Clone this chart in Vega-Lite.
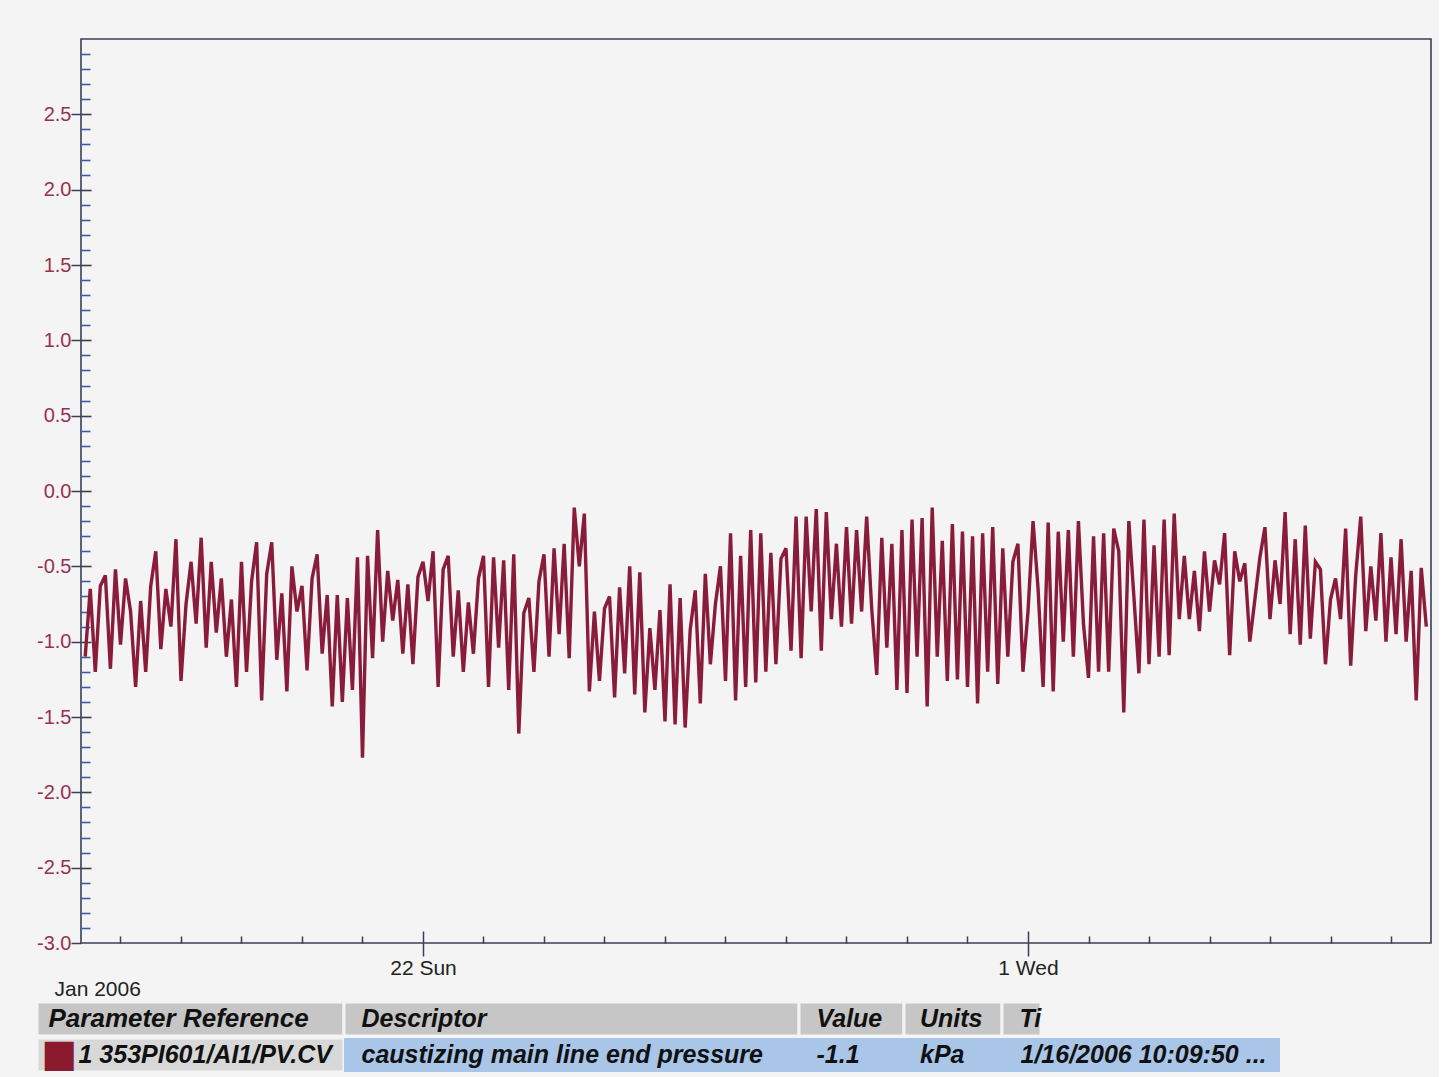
{
  "$schema": "https://vega.github.io/schema/vega-lite/v6.json",
  "background": "#f4f4f4",
  "padding": {"left": 35, "top": 38, "right": 5, "bottom": 3},
  "config": {"view": {"stroke": null}, "font": "Liberation Sans"},
  "columns": 1,
  "align": "none",
  "spacing": 0,
  "datasets": {
    "trend": [
      {"t":"2006-01-16T10:00","v":-1.1},{"t":"2006-01-16T12:00","v":-0.65},{"t":"2006-01-16T14:00","v":-1.2},{"t":"2006-01-16T16:00","v":-0.63},{"t":"2006-01-16T18:00","v":-0.56},{"t":"2006-01-16T20:00","v":-1.18},{"t":"2006-01-16T22:00","v":-0.52},
      {"t":"2006-01-17T00:00","v":-1.02},{"t":"2006-01-17T02:00","v":-0.58},{"t":"2006-01-17T04:00","v":-0.8},{"t":"2006-01-17T06:00","v":-1.3},{"t":"2006-01-17T08:00","v":-0.73},{"t":"2006-01-17T10:00","v":-1.2},{"t":"2006-01-17T12:00","v":-0.63},{"t":"2006-01-17T14:00","v":-0.4},{"t":"2006-01-17T16:00","v":-1.05},{"t":"2006-01-17T18:00","v":-0.65},{"t":"2006-01-17T20:00","v":-0.9},{"t":"2006-01-17T22:00","v":-0.32},
      {"t":"2006-01-18T00:00","v":-1.26},{"t":"2006-01-18T02:00","v":-0.75},{"t":"2006-01-18T04:00","v":-0.47},{"t":"2006-01-18T06:00","v":-0.88},{"t":"2006-01-18T08:00","v":-0.31},{"t":"2006-01-18T10:00","v":-1.04},{"t":"2006-01-18T12:00","v":-0.47},{"t":"2006-01-18T14:00","v":-0.94},{"t":"2006-01-18T16:00","v":-0.58},{"t":"2006-01-18T18:00","v":-1.1},{"t":"2006-01-18T20:00","v":-0.72},{"t":"2006-01-18T22:00","v":-1.3},
      {"t":"2006-01-19T00:00","v":-0.47},{"t":"2006-01-19T02:00","v":-1.2},{"t":"2006-01-19T04:00","v":-0.6},{"t":"2006-01-19T06:00","v":-0.34},{"t":"2006-01-19T08:00","v":-1.39},{"t":"2006-01-19T10:00","v":-0.55},{"t":"2006-01-19T12:00","v":-0.34},{"t":"2006-01-19T14:00","v":-1.12},{"t":"2006-01-19T16:00","v":-0.68},{"t":"2006-01-19T18:00","v":-1.33},{"t":"2006-01-19T20:00","v":-0.5},{"t":"2006-01-19T22:00","v":-0.8},
      {"t":"2006-01-20T00:00","v":-0.63},{"t":"2006-01-20T02:00","v":-1.19},{"t":"2006-01-20T04:00","v":-0.58},{"t":"2006-01-20T06:00","v":-0.42},{"t":"2006-01-20T08:00","v":-1.08},{"t":"2006-01-20T10:00","v":-0.69},{"t":"2006-01-20T12:00","v":-1.43},{"t":"2006-01-20T14:00","v":-0.69},{"t":"2006-01-20T16:00","v":-1.4},{"t":"2006-01-20T18:00","v":-0.71},{"t":"2006-01-20T20:00","v":-1.32},{"t":"2006-01-20T22:00","v":-0.44},
      {"t":"2006-01-21T00:00","v":-1.77},{"t":"2006-01-21T02:00","v":-0.43},{"t":"2006-01-21T04:00","v":-1.11},{"t":"2006-01-21T06:00","v":-0.26},{"t":"2006-01-21T08:00","v":-1.0},{"t":"2006-01-21T10:00","v":-0.53},{"t":"2006-01-21T12:00","v":-0.86},{"t":"2006-01-21T14:00","v":-0.59},{"t":"2006-01-21T16:00","v":-1.08},{"t":"2006-01-21T18:00","v":-0.62},{"t":"2006-01-21T20:00","v":-1.15},{"t":"2006-01-21T22:00","v":-0.57},
      {"t":"2006-01-22T00:00","v":-0.47},{"t":"2006-01-22T02:00","v":-0.73},{"t":"2006-01-22T04:00","v":-0.4},{"t":"2006-01-22T06:00","v":-1.3},{"t":"2006-01-22T08:00","v":-0.52},{"t":"2006-01-22T10:00","v":-0.43},{"t":"2006-01-22T12:00","v":-1.1},{"t":"2006-01-22T14:00","v":-0.66},{"t":"2006-01-22T16:00","v":-1.2},{"t":"2006-01-22T18:00","v":-0.74},{"t":"2006-01-22T20:00","v":-1.08},{"t":"2006-01-22T22:00","v":-0.58},
      {"t":"2006-01-23T00:00","v":-0.43},{"t":"2006-01-23T02:00","v":-1.3},{"t":"2006-01-23T04:00","v":-0.44},{"t":"2006-01-23T06:00","v":-1.04},{"t":"2006-01-23T08:00","v":-0.46},{"t":"2006-01-23T10:00","v":-1.32},{"t":"2006-01-23T12:00","v":-0.42},{"t":"2006-01-23T14:00","v":-1.61},{"t":"2006-01-23T16:00","v":-0.81},{"t":"2006-01-23T18:00","v":-0.71},{"t":"2006-01-23T20:00","v":-1.2},{"t":"2006-01-23T22:00","v":-0.6},
      {"t":"2006-01-24T00:00","v":-0.42},{"t":"2006-01-24T02:00","v":-1.1},{"t":"2006-01-24T04:00","v":-0.38},{"t":"2006-01-24T06:00","v":-0.95},{"t":"2006-01-24T08:00","v":-0.35},{"t":"2006-01-24T10:00","v":-1.11},{"t":"2006-01-24T12:00","v":-0.11},{"t":"2006-01-24T14:00","v":-0.5},{"t":"2006-01-24T16:00","v":-0.15},{"t":"2006-01-24T18:00","v":-1.33},{"t":"2006-01-24T20:00","v":-0.8},{"t":"2006-01-24T22:00","v":-1.26},
      {"t":"2006-01-25T00:00","v":-0.78},{"t":"2006-01-25T02:00","v":-0.7},{"t":"2006-01-25T04:00","v":-1.37},{"t":"2006-01-25T06:00","v":-0.64},{"t":"2006-01-25T08:00","v":-1.21},{"t":"2006-01-25T10:00","v":-0.5},{"t":"2006-01-25T12:00","v":-1.35},{"t":"2006-01-25T14:00","v":-0.54},{"t":"2006-01-25T16:00","v":-1.47},{"t":"2006-01-25T18:00","v":-0.91},{"t":"2006-01-25T20:00","v":-1.32},{"t":"2006-01-25T22:00","v":-0.79},
      {"t":"2006-01-26T00:00","v":-1.53},{"t":"2006-01-26T02:00","v":-0.62},{"t":"2006-01-26T04:00","v":-1.55},{"t":"2006-01-26T06:00","v":-0.71},{"t":"2006-01-26T08:00","v":-1.57},{"t":"2006-01-26T10:00","v":-0.92},{"t":"2006-01-26T12:00","v":-0.66},{"t":"2006-01-26T14:00","v":-1.41},{"t":"2006-01-26T16:00","v":-0.55},{"t":"2006-01-26T18:00","v":-1.15},{"t":"2006-01-26T20:00","v":-0.75},{"t":"2006-01-26T22:00","v":-0.5},
      {"t":"2006-01-27T00:00","v":-1.26},{"t":"2006-01-27T02:00","v":-0.28},{"t":"2006-01-27T04:00","v":-1.39},{"t":"2006-01-27T06:00","v":-0.43},{"t":"2006-01-27T08:00","v":-1.3},{"t":"2006-01-27T10:00","v":-0.26},{"t":"2006-01-27T12:00","v":-1.27},{"t":"2006-01-27T14:00","v":-0.28},{"t":"2006-01-27T16:00","v":-1.2},{"t":"2006-01-27T18:00","v":-0.41},{"t":"2006-01-27T20:00","v":-1.15},{"t":"2006-01-27T22:00","v":-0.45},
      {"t":"2006-01-28T00:00","v":-0.38},{"t":"2006-01-28T02:00","v":-1.06},{"t":"2006-01-28T04:00","v":-0.17},{"t":"2006-01-28T06:00","v":-1.11},{"t":"2006-01-28T08:00","v":-0.17},{"t":"2006-01-28T10:00","v":-0.8},{"t":"2006-01-28T12:00","v":-0.12},{"t":"2006-01-28T14:00","v":-1.06},{"t":"2006-01-28T16:00","v":-0.14},{"t":"2006-01-28T18:00","v":-0.85},{"t":"2006-01-28T20:00","v":-0.35},{"t":"2006-01-28T22:00","v":-0.9},
      {"t":"2006-01-29T00:00","v":-0.24},{"t":"2006-01-29T02:00","v":-0.88},{"t":"2006-01-29T04:00","v":-0.26},{"t":"2006-01-29T06:00","v":-0.8},{"t":"2006-01-29T08:00","v":-0.17},{"t":"2006-01-29T10:00","v":-0.78},{"t":"2006-01-29T12:00","v":-1.22},{"t":"2006-01-29T14:00","v":-0.31},{"t":"2006-01-29T16:00","v":-1.04},{"t":"2006-01-29T18:00","v":-0.35},{"t":"2006-01-29T20:00","v":-1.32},{"t":"2006-01-29T22:00","v":-0.26},
      {"t":"2006-01-30T00:00","v":-1.34},{"t":"2006-01-30T02:00","v":-0.19},{"t":"2006-01-30T04:00","v":-1.1},{"t":"2006-01-30T06:00","v":-0.18},{"t":"2006-01-30T08:00","v":-1.43},{"t":"2006-01-30T10:00","v":-0.11},{"t":"2006-01-30T12:00","v":-1.1},{"t":"2006-01-30T14:00","v":-0.33},{"t":"2006-01-30T16:00","v":-1.26},{"t":"2006-01-30T18:00","v":-0.22},{"t":"2006-01-30T20:00","v":-1.25},{"t":"2006-01-30T22:00","v":-0.27},
      {"t":"2006-01-31T00:00","v":-1.3},{"t":"2006-01-31T02:00","v":-0.3},{"t":"2006-01-31T04:00","v":-1.41},{"t":"2006-01-31T06:00","v":-0.28},{"t":"2006-01-31T08:00","v":-1.2},{"t":"2006-01-31T10:00","v":-0.24},{"t":"2006-01-31T12:00","v":-1.28},{"t":"2006-01-31T14:00","v":-0.38},{"t":"2006-01-31T16:00","v":-1.1},{"t":"2006-01-31T18:00","v":-0.47},{"t":"2006-01-31T20:00","v":-0.35},{"t":"2006-01-31T22:00","v":-1.2},
      {"t":"2006-02-01T00:00","v":-0.8},{"t":"2006-02-01T02:00","v":-0.2},{"t":"2006-02-01T04:00","v":-0.65},{"t":"2006-02-01T06:00","v":-1.3},{"t":"2006-02-01T08:00","v":-0.21},{"t":"2006-02-01T10:00","v":-1.33},{"t":"2006-02-01T12:00","v":-0.27},{"t":"2006-02-01T14:00","v":-1.0},{"t":"2006-02-01T16:00","v":-0.26},{"t":"2006-02-01T18:00","v":-1.1},{"t":"2006-02-01T20:00","v":-0.2},{"t":"2006-02-01T22:00","v":-0.88},
      {"t":"2006-02-02T00:00","v":-1.24},{"t":"2006-02-02T02:00","v":-0.3},{"t":"2006-02-02T04:00","v":-1.2},{"t":"2006-02-02T06:00","v":-0.28},{"t":"2006-02-02T08:00","v":-1.2},{"t":"2006-02-02T10:00","v":-0.25},{"t":"2006-02-02T12:00","v":-0.4},{"t":"2006-02-02T14:00","v":-1.47},{"t":"2006-02-02T16:00","v":-0.2},{"t":"2006-02-02T18:00","v":-0.7},{"t":"2006-02-02T20:00","v":-1.21},{"t":"2006-02-02T22:00","v":-0.19},
      {"t":"2006-02-03T00:00","v":-1.15},{"t":"2006-02-03T02:00","v":-0.36},{"t":"2006-02-03T04:00","v":-1.1},{"t":"2006-02-03T06:00","v":-0.19},{"t":"2006-02-03T08:00","v":-1.09},{"t":"2006-02-03T10:00","v":-0.15},{"t":"2006-02-03T12:00","v":-0.85},{"t":"2006-02-03T14:00","v":-0.43},{"t":"2006-02-03T16:00","v":-0.85},{"t":"2006-02-03T18:00","v":-0.53},{"t":"2006-02-03T20:00","v":-0.93},{"t":"2006-02-03T22:00","v":-0.4},
      {"t":"2006-02-04T00:00","v":-0.8},{"t":"2006-02-04T02:00","v":-0.46},{"t":"2006-02-04T04:00","v":-0.62},{"t":"2006-02-04T06:00","v":-0.28},{"t":"2006-02-04T08:00","v":-1.09},{"t":"2006-02-04T10:00","v":-0.4},{"t":"2006-02-04T12:00","v":-0.6},{"t":"2006-02-04T14:00","v":-0.48},{"t":"2006-02-04T16:00","v":-1.0},{"t":"2006-02-04T18:00","v":-0.72},{"t":"2006-02-04T20:00","v":-0.44},{"t":"2006-02-04T22:00","v":-0.24},
      {"t":"2006-02-05T00:00","v":-0.85},{"t":"2006-02-05T02:00","v":-0.46},{"t":"2006-02-05T04:00","v":-0.75},{"t":"2006-02-05T06:00","v":-0.14},{"t":"2006-02-05T08:00","v":-0.95},{"t":"2006-02-05T10:00","v":-0.32},{"t":"2006-02-05T12:00","v":-1.02},{"t":"2006-02-05T14:00","v":-0.23},{"t":"2006-02-05T16:00","v":-0.98},{"t":"2006-02-05T18:00","v":-0.47},{"t":"2006-02-05T20:00","v":-0.52},{"t":"2006-02-05T22:00","v":-1.15},
      {"t":"2006-02-06T00:00","v":-0.72},{"t":"2006-02-06T02:00","v":-0.58},{"t":"2006-02-06T04:00","v":-0.85},{"t":"2006-02-06T06:00","v":-0.25},{"t":"2006-02-06T08:00","v":-1.16},{"t":"2006-02-06T10:00","v":-0.56},{"t":"2006-02-06T12:00","v":-0.17},{"t":"2006-02-06T14:00","v":-0.93},{"t":"2006-02-06T16:00","v":-0.5},{"t":"2006-02-06T18:00","v":-0.86},{"t":"2006-02-06T20:00","v":-0.28},{"t":"2006-02-06T22:00","v":-1.0},
      {"t":"2006-02-07T00:00","v":-0.44},{"t":"2006-02-07T02:00","v":-0.95},{"t":"2006-02-07T04:00","v":-0.32},{"t":"2006-02-07T06:00","v":-1.0},{"t":"2006-02-07T08:00","v":-0.53},{"t":"2006-02-07T10:00","v":-1.39},{"t":"2006-02-07T12:00","v":-0.51},{"t":"2006-02-07T14:00","v":-0.9}
    ],
    "table": [
      {"col":"param","row":"header","label":"Parameter Reference"},
      {"col":"param","row":"value","label":"1 353PI601/AI1/PV.CV"},
      {"col":"desc","row":"header","label":"Descriptor"},
      {"col":"desc","row":"value","label":"caustizing main line end pressure"},
      {"col":"value","row":"header","label":"Value"},
      {"col":"value","row":"value","label":"-1.1"},
      {"col":"units","row":"header","label":"Units"},
      {"col":"units","row":"value","label":"kPa"},
      {"col":"time","row":"header","label":"Ti"},
      {"col":"time","row":"value","label":"1/16/2006 10:09:50 ..."}
    ]
  },
  "concat": [
    {
      "width": 1350,
      "height": 904,
      "view": {"stroke": "#3a3f55", "strokeWidth": 1.6},
      "data": {"name": "trend"},
      "layer": [
        {
          "mark": {"type": "line", "color": "#8a1c3b", "strokeWidth": 3.4},
          "encoding": {
            "x": {
              "field": "t", "type": "temporal",
              "scale": {"domain": [{"year": 2006, "month": 1, "date": 16, "hours": 8, "minutes": 20}, {"year": 2006, "month": 2, "date": 7, "hours": 15, "minutes": 52}]},
              "axis": {
                "orient": "bottom",
                "values": [{"year": 2006, "month": 1, "date": 22}, {"year": 2006, "month": 2, "date": 1}],
                "format": "%-d %a",
                "tickSize": 13, "tickColor": "#3a3f55", "tickWidth": 1.5,
                "labelColor": "#222222", "labelFontSize": 21, "labelPadding": 1, "labelFont": "Liberation Sans",
                "domain": false, "grid": false,
                "title": "Jan 2006", "titleFontSize": 21, "titleFontWeight": "normal", "titleColor": "#222222", "titleFont": "Liberation Sans",
                "titleX": -27, "titleY": 46, "titleAlign": "left", "titleBaseline": "middle", "titleAnchor": "start"
              }
            },
            "y": {
              "field": "v", "type": "quantitative",
              "scale": {"domain": [-3, 3], "nice": false, "zero": false},
              "axis": {
                "orient": "left",
                "values": [-3.0, -2.5, -2.0, -1.5, -1.0, -0.5, 0.0, 0.5, 1.0, 1.5, 2.0, 2.5],
                "labelExpr": "replace(format(datum.value, '.1f'), '\u2212', '-')",
                "tickSize": 10, "tickColor": "#3a3f55", "tickWidth": 1.5,
                "labelColor": "#9a3050", "labelFontSize": 20, "labelPadding": 0, "labelFont": "Liberation Sans",
                "domain": false, "grid": false, "title": null
              }
            }
          }
        },
        {
          "mark": {"type": "line", "opacity": 0},
          "encoding": {
            "x": {
              "field": "t", "type": "temporal",
              "axis": {
                "orient": "bottom",
                "values": [
                  {"year": 2006, "month": 1, "date": 17}, {"year": 2006, "month": 1, "date": 18}, {"year": 2006, "month": 1, "date": 19}, {"year": 2006, "month": 1, "date": 20}, {"year": 2006, "month": 1, "date": 21}, {"year": 2006, "month": 1, "date": 22}, {"year": 2006, "month": 1, "date": 23}, {"year": 2006, "month": 1, "date": 24}, {"year": 2006, "month": 1, "date": 25}, {"year": 2006, "month": 1, "date": 26}, {"year": 2006, "month": 1, "date": 27}, {"year": 2006, "month": 1, "date": 28}, {"year": 2006, "month": 1, "date": 29}, {"year": 2006, "month": 1, "date": 30}, {"year": 2006, "month": 1, "date": 31},
                  {"year": 2006, "month": 2, "date": 1}, {"year": 2006, "month": 2, "date": 2}, {"year": 2006, "month": 2, "date": 3}, {"year": 2006, "month": 2, "date": 4}, {"year": 2006, "month": 2, "date": 5}, {"year": 2006, "month": 2, "date": 6}, {"year": 2006, "month": 2, "date": 7}
                ],
                "tickSize": {"condition": {"test": "date(datum.value) == 22 || date(datum.value) == 1", "value": -12}, "value": -7},
                "tickColor": "#3a3f55", "tickWidth": 1.5,
                "labels": false, "domain": false, "grid": false, "title": null
              }
            },
            "y": {
              "field": "v", "type": "quantitative",
              "axis": {
                "orient": "left",
                "values": [-2.9, -2.8, -2.7, -2.6, -2.5, -2.4, -2.3, -2.2, -2.1, -2.0, -1.9, -1.8, -1.7, -1.6, -1.5, -1.4, -1.3, -1.2, -1.1, -1.0, -0.9, -0.8, -0.7, -0.6, -0.5, -0.4, -0.3, -0.2, -0.1, 0.0, 0.1, 0.2, 0.3, 0.4, 0.5, 0.6, 0.7, 0.8, 0.9, 1.0, 1.1, 1.2, 1.3, 1.4, 1.5, 1.6, 1.7, 1.8, 1.9, 2.0, 2.1, 2.2, 2.3, 2.4, 2.5, 2.6, 2.7, 2.8, 2.9],
                "tickSize": {"condition": {"test": "abs(datum.value * 2 - round(datum.value * 2)) < 0.001", "value": -10}, "value": -9},
                "tickColor": {"condition": {"test": "abs(datum.value * 2 - round(datum.value * 2)) < 0.001", "value": "#3a3f55"}, "value": "#3b5bab"},
                "tickWidth": 1.6,
                "labels": false, "domain": false, "grid": false, "title": null
              }
            }
          }
        }
      ],
      "resolve": {"axis": {"x": "independent", "y": "independent"}}
    },
    {
      "spacing": 0,
      "bounds": "flush",
      "hconcat": [
        {
          "width": 263, "height": 70,
          "data": {"name": "table"},
          "transform": [{"filter": "datum.col === 'param'"}],
          "layer": [
            {
              "mark": {"type": "rect", "stroke": "#f4f4f4", "strokeWidth": 3},
              "encoding": {
                "x": {"datum": 0, "type": "quantitative", "scale": {"domain": [0, 1], "range": [-44, 263]}, "axis": null},
                "x2": {"datum": 1},
                "y": {"field": "row", "type": "nominal", "scale": {"domain": ["header", "value"], "paddingInner": 0.06, "paddingOuter": 0}, "axis": null},
                "fill": {"condition": {"test": "datum.row === 'header'", "value": "#c6c6c6"}, "value": "#d8d8d8"}
              }
            },
            {
              "transform": [{"filter": "datum.row === 'header'"}],
              "mark": {"type": "text", "align": "left", "dx": -164, "fontSize": 26, "fontWeight": "bold", "fontStyle": "italic", "color": "#111111"},
              "encoding": {"y": {"field": "row", "type": "nominal"}, "text": {"field": "label"}}
            },
            {
              "transform": [{"filter": "datum.row === 'value'"}],
              "mark": {"type": "text", "align": "left", "dx": -134, "fontSize": 25, "fontWeight": "bold", "fontStyle": "italic", "color": "#111111"},
              "encoding": {"y": {"field": "row", "type": "nominal"}, "text": {"field": "label"}}
            },
            {
              "transform": [{"filter": "datum.row === 'value'"}],
              "mark": {"type": "text", "align": "left", "dx": -171, "fontSize": 38, "font": "DejaVu Sans", "color": "#8b1a2e"},
              "encoding": {"y": {"field": "row", "type": "nominal"}, "text": {"value": "■"}}
            }
          ]
        },
        {
          "width": 455, "height": 70,
          "data": {"name": "table"},
          "transform": [{"filter": "datum.col === 'desc'"}],
          "layer": [
            {
              "mark": {"type": "rect", "stroke": "#f4f4f4"},
              "encoding": {
                "y": {"field": "row", "type": "nominal", "scale": {"domain": ["header", "value"], "paddingInner": 0.06, "paddingOuter": 0}, "axis": null},
                "fill": {"condition": {"test": "datum.row === 'header'", "value": "#c6c6c6"}, "value": "#a9c5e8"},
                "strokeWidth": {"condition": {"test": "datum.row === 'header'", "value": 3}, "value": 0}
              }
            },
            {
              "mark": {"type": "text", "align": "left", "dx": -210, "fontSize": 25, "fontWeight": "bold", "fontStyle": "italic", "color": "#111111"},
              "encoding": {"y": {"field": "row", "type": "nominal"}, "text": {"field": "label"}}
            }
          ]
        },
        {
          "width": 105, "height": 70,
          "data": {"name": "table"},
          "transform": [{"filter": "datum.col === 'value'"}],
          "layer": [
            {
              "mark": {"type": "rect", "stroke": "#f4f4f4"},
              "encoding": {
                "y": {"field": "row", "type": "nominal", "scale": {"domain": ["header", "value"], "paddingInner": 0.06, "paddingOuter": 0}, "axis": null},
                "fill": {"condition": {"test": "datum.row === 'header'", "value": "#c6c6c6"}, "value": "#a9c5e8"},
                "strokeWidth": {"condition": {"test": "datum.row === 'header'", "value": 3}, "value": 0}
              }
            },
            {
              "mark": {"type": "text", "align": "left", "dx": -35, "fontSize": 25, "fontWeight": "bold", "fontStyle": "italic", "color": "#111111"},
              "encoding": {"y": {"field": "row", "type": "nominal"}, "text": {"field": "label"}}
            }
          ]
        },
        {
          "width": 98, "height": 70,
          "data": {"name": "table"},
          "transform": [{"filter": "datum.col === 'units'"}],
          "layer": [
            {
              "mark": {"type": "rect", "stroke": "#f4f4f4"},
              "encoding": {
                "y": {"field": "row", "type": "nominal", "scale": {"domain": ["header", "value"], "paddingInner": 0.06, "paddingOuter": 0}, "axis": null},
                "fill": {"condition": {"test": "datum.row === 'header'", "value": "#c6c6c6"}, "value": "#a9c5e8"},
                "strokeWidth": {"condition": {"test": "datum.row === 'header'", "value": 3}, "value": 0}
              }
            },
            {
              "mark": {"type": "text", "align": "left", "dx": -33, "fontSize": 25, "fontWeight": "bold", "fontStyle": "italic", "color": "#111111"},
              "encoding": {"y": {"field": "row", "type": "nominal"}, "text": {"field": "label"}}
            }
          ]
        },
        {
          "width": 39, "height": 70,
          "data": {"name": "table"},
          "transform": [{"filter": "datum.col === 'time'"}],
          "layer": [
            {
              "mark": {"type": "rect", "stroke": "#f4f4f4"},
              "encoding": {
                "y": {"field": "row", "type": "nominal", "scale": {"domain": ["header", "value"], "paddingInner": 0.06, "paddingOuter": 0}, "axis": null},
                "fill": {"condition": {"test": "datum.row === 'header'", "value": "#c6c6c6"}, "value": "#a9c5e8"},
                "strokeWidth": {"condition": {"test": "datum.row === 'header'", "value": 3}, "value": 0}
              }
            },
            {
              "transform": [{"filter": "datum.row === 'header'"}],
              "mark": {"type": "text", "align": "left", "dx": -2, "fontSize": 25, "fontWeight": "bold", "fontStyle": "italic", "color": "#111111"},
              "encoding": {"y": {"field": "row", "type": "nominal"}, "text": {"field": "label"}}
            }
          ]
        },
        {
          "width": 239, "height": 70,
          "data": {"name": "table"},
          "transform": [{"filter": "datum.col === 'time' && datum.row === 'value'"}],
          "layer": [
            {
              "mark": {"type": "rect", "fill": "#a9c5e8"},
              "encoding": {
                "y": {"field": "row", "type": "nominal", "scale": {"domain": ["header", "value"], "paddingInner": 0.06, "paddingOuter": 0}, "axis": null}
              }
            },
            {
              "mark": {"type": "text", "align": "left", "dx": -140, "fontSize": 25, "fontWeight": "bold", "fontStyle": "italic", "color": "#111111"},
              "encoding": {"y": {"field": "row", "type": "nominal"}, "text": {"field": "label"}}
            }
          ]
        }
      ]
    }
  ]
}
